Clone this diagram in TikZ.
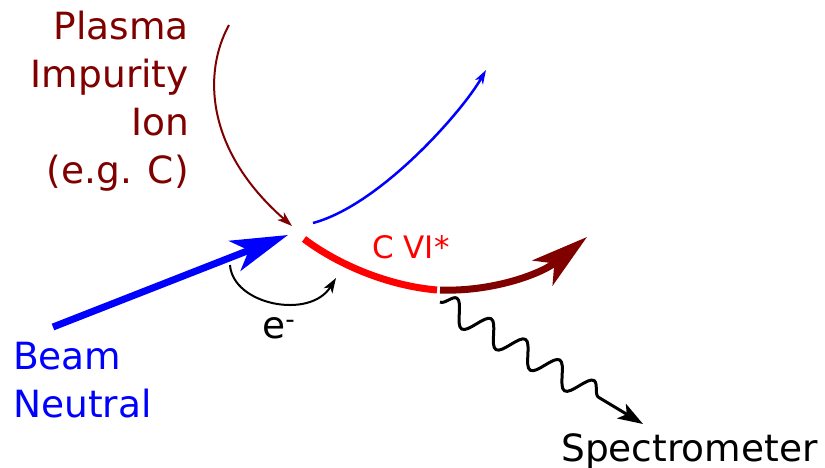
\documentclass[tikz,border=0pt]{standalone}
\usepackage{fontspec}
\setmainfont{DejaVu Sans}
\usetikzlibrary{arrows.meta,decorations.pathmorphing}
\definecolor{ionbrown}{HTML}{800000}
\definecolor{beamblue}{HTML}{0000FF}
\definecolor{exred}{HTML}{FF0000}
\tikzset{
  bigtip/.style={-{Stealth[length=57pt,width=32pt,inset=15pt]}},
  thintip/.style={-{Stealth[length=15pt,width=10pt,inset=4pt]}},
  smalltip/.style={-{Stealth[length=14pt,width=9pt,inset=4pt]}},
  wavetip/.style={-{Stealth[length=25pt,width=17pt,inset=6pt]}},
  label37/.style={inner sep=0pt,font=\fontsize{37.5}{48}\selectfont},
}
\begin{document}
\begin{tikzpicture}[x=1pt,y=-1pt]
\useasboundingbox (0,0) rectangle (825,468);
% coordinates
\coordinate (ionstart) at (229,25);
\coordinate (ionend) at (292,226);
\coordinate (beamstart) at (53,327);
\coordinate (beamend) at (288,235);
\coordinate (scatstart) at (313,223);
\coordinate (scatend) at (486,70);
\coordinate (redstart) at (304,239);
\coordinate (redend) at (437,290);
\coordinate (darkstart) at (440,290);
\coordinate (darkend) at (587,237);
\coordinate (estart) at (230,265);
\coordinate (eend) at (336,278);
\coordinate (wavestart) at (440,302);
\coordinate (waveend) at (643,424);
% texts
\node[label37,text=ionbrown,align=right,anchor=north east] (ion) at (189,11) {Plasma\\Impurity\\Ion\\(e.g. C)};
\node[label37,text=beamblue,align=left,anchor=north west] (beam) at (13,342) {Beam\\Neutral};
\node[label37,anchor=base west] (spec) at (561,461) {Spectrometer};
\node[inner sep=0pt,text=exred,font=\fontsize{31}{36}\selectfont,anchor=base west] (cvi) at (372,258) {C VI*};
\node[label37,anchor=base west] (elec) at (262,338) {e\textsuperscript{-}};
% arrows
\draw[ionbrown,line width=2pt,thintip] (ionstart) .. controls (203,72) and (205,150) .. (ionend);
\draw[beamblue,line width=7pt,bigtip] (beamstart) -- (beamend);
\draw[beamblue,line width=2.5pt,smalltip] (scatstart) .. controls (380,205) and (462,112) .. (scatend);
\draw[exred,line width=7pt] (redstart) .. controls (340,266) and (390,286) .. (redend);
\draw[ionbrown,line width=7pt,bigtip] (darkstart) .. controls (490,292) and (540,275) .. (darkend);
\draw[black,line width=2pt,thintip] (estart) .. controls (233,305) and (310,320) .. (eend);
\draw[black,line width=3pt,line join=round,wavetip,
  decorate,decoration={snake,amplitude=12pt,segment length=40pt,post length=40pt}] (wavestart) -- (waveend);
\end{tikzpicture}
\end{document}
